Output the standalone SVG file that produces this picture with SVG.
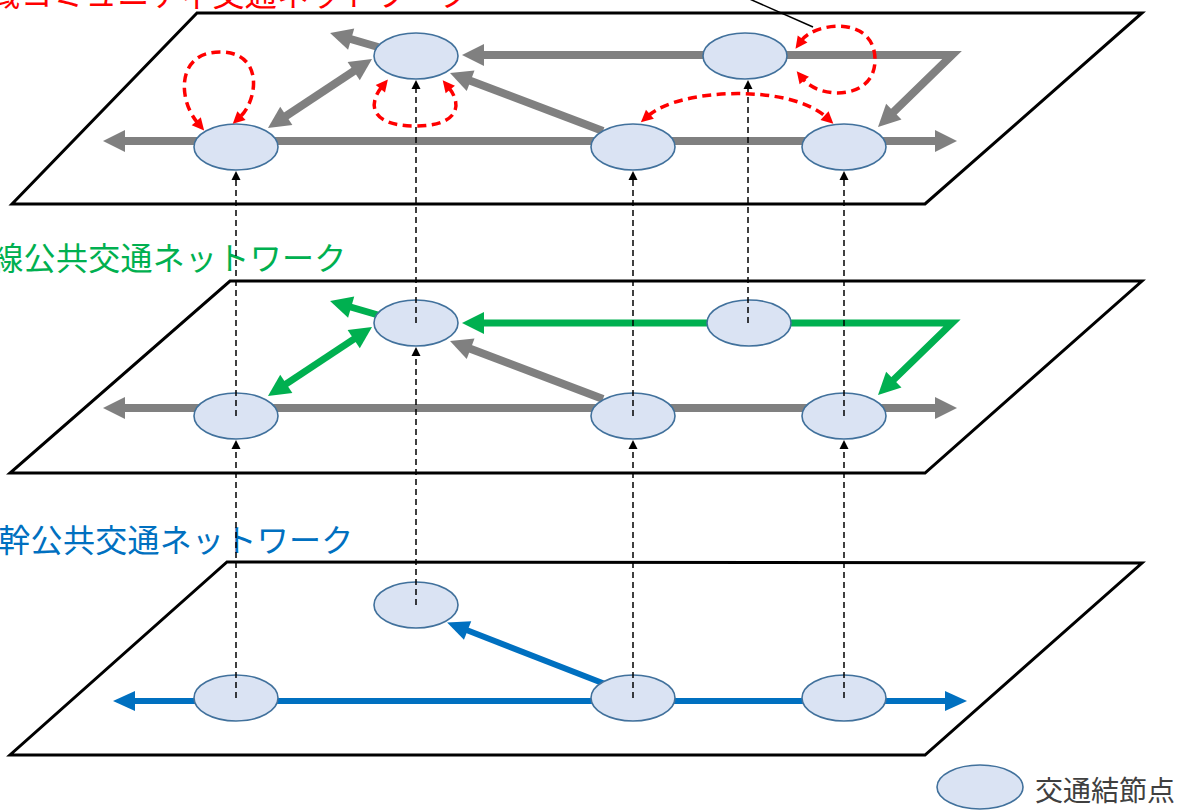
<svg xmlns="http://www.w3.org/2000/svg" width="1181" height="810" viewBox="0 0 1181 810">
<style>
.plane{fill:#fff;stroke:#000;stroke-width:3;stroke-linejoin:miter}
.node{fill:#DAE3F3;stroke:#41719C;stroke-width:1.6}
.gray{fill:none;stroke:#808080;stroke-width:8;stroke-linejoin:miter}
.green{fill:none;stroke:#00B050;stroke-width:7;stroke-linejoin:miter}
.blue{fill:none;stroke:#0070C0;stroke-width:6}
.red{fill:none;stroke:#FF0000;stroke-width:3.5;stroke-dasharray:9 5.5}
.vd{fill:none;stroke:#000;stroke-width:1.5;stroke-dasharray:6 4}
.ttl{font-family:"Noto Sans CJK JP","Noto Sans",sans-serif;font-size:32px;letter-spacing:0.3px}
</style>
<defs>
<marker id="ag" markerUnits="userSpaceOnUse" viewBox="-10 -15 30 30" markerWidth="30" markerHeight="30" refX="0" refY="0" orient="auto-start-reverse" overflow="visible"><path d="M-6,-11 L16,0 L-6,11 Z" fill="#808080"/></marker>
<marker id="agr" markerUnits="userSpaceOnUse" viewBox="-10 -15 30 30" markerWidth="30" markerHeight="30" refX="0" refY="0" orient="auto-start-reverse" overflow="visible"><path d="M-6,-11 L16,0 L-6,11 Z" fill="#00B050"/></marker>
<marker id="ab" markerUnits="userSpaceOnUse" viewBox="-10 -15 30 30" markerWidth="30" markerHeight="30" refX="0" refY="0" orient="auto-start-reverse" overflow="visible"><path d="M-6,-10 L16,0 L-6,10 Z" fill="#0070C0"/></marker>
<marker id="ar" markerUnits="userSpaceOnUse" viewBox="-5 -8 16 16" markerWidth="16" markerHeight="16" refX="0" refY="0" orient="auto-start-reverse" overflow="visible"><path d="M-2,-6 L10,0 L-2,6 Z" fill="#FF0000"/></marker>
<marker id="ak" markerUnits="userSpaceOnUse" viewBox="-4 -6 14 12" markerWidth="14" markerHeight="12" refX="0" refY="0" orient="auto-start-reverse" overflow="visible"><path d="M-1,-4.5 L8,0 L-1,4.5 Z" fill="#000"/></marker>
</defs>

<g id="titles">
<text class="ttl" x="-44" y="6" fill="#FF0000" font-size="31">地域コミュニティ交通ネットワーク</text>
<text class="ttl" x="-41" y="270" fill="#00B050">支線公共交通ネットワーク</text>
<text class="ttl" x="-34" y="552" fill="#0070C0">基幹公共交通ネットワーク</text>
</g>

<g id="planes">
<polygon id="plane-top" class="plane" points="197,13 1142,13 925,204 12,204"/>
<polygon id="plane-mid" class="plane" points="230,281 1142,281 925,473 10,473"/>
<polygon id="plane-bottom" class="plane" points="227,562 1142,563 925,755 10,755"/>
</g>

<g id="connectors">
<!-- top layer -->
<line class="gray" x1="119" y1="141" x2="941" y2="141" marker-start="url(#ag)" marker-end="url(#ag)"/>
<path class="gray" d="M478,55 L952,55 L889.5,115.8" marker-start="url(#ag)" marker-end="url(#ag)"/>
<line class="gray" x1="603" y1="131" x2="465" y2="78.7" marker-end="url(#ag)"/>
<line class="gray" x1="281.3" y1="119.2" x2="358.7" y2="67.8" marker-start="url(#ag)" marker-end="url(#ag)"/>
<line class="gray" x1="378" y1="47" x2="345.4" y2="37.5" marker-end="url(#ag)"/>
<!-- middle layer -->
<line class="gray" x1="119" y1="408" x2="941" y2="408" marker-start="url(#ag)" marker-end="url(#ag)"/>
<line class="gray" x1="603" y1="399" x2="465" y2="346.7" marker-end="url(#ag)"/>
<path class="green" d="M478,323 L952,323 L889.5,383.8" marker-start="url(#agr)" marker-end="url(#agr)"/>
<line class="green" x1="281.3" y1="387.2" x2="358.7" y2="335.8" marker-start="url(#agr)" marker-end="url(#agr)"/>
<line class="green" x1="378" y1="315" x2="345.4" y2="305.5" marker-end="url(#agr)"/>
<!-- bottom layer -->
<line class="blue" x1="129" y1="701" x2="951" y2="701" marker-start="url(#ab)" marker-end="url(#ab)"/>
<line class="blue" x1="605" y1="684" x2="462" y2="628.3" marker-end="url(#ab)"/>
</g>

<g id="nodes">
<ellipse id="t-a" class="node" cx="236" cy="147" rx="42" ry="23"/>
<ellipse id="t-b" class="node" cx="416" cy="56" rx="42" ry="23"/>
<ellipse id="t-c" class="node" cx="633" cy="147" rx="42" ry="23"/>
<ellipse id="t-d" class="node" cx="745" cy="56" rx="42" ry="23"/>
<ellipse id="t-e" class="node" cx="844" cy="147" rx="42" ry="23"/>
<ellipse id="m-a" class="node" cx="236" cy="416" rx="42" ry="23"/>
<ellipse id="m-b" class="node" cx="416" cy="323" rx="42" ry="23"/>
<ellipse id="m-c" class="node" cx="633" cy="416" rx="42" ry="23"/>
<ellipse id="m-d" class="node" cx="749" cy="323" rx="42" ry="23"/>
<ellipse id="m-e" class="node" cx="844" cy="416" rx="42" ry="23"/>
<ellipse id="b-b" class="node" cx="416" cy="605" rx="42" ry="23"/>
<ellipse id="b-a" class="node" cx="236" cy="698" rx="42" ry="23"/>
<ellipse id="b-c" class="node" cx="633" cy="698" rx="42" ry="23"/>
<ellipse id="b-e" class="node" cx="844" cy="698" rx="42" ry="23"/>
</g>

<g id="vertical-links">
<line class="vd" x1="236" y1="416" x2="236" y2="179" marker-end="url(#ak)"/>
<line class="vd" x1="416" y1="323" x2="416" y2="88" marker-end="url(#ak)"/>
<line class="vd" x1="633" y1="416" x2="633" y2="179" marker-end="url(#ak)"/>
<line class="vd" x1="748" y1="323" x2="748" y2="88" marker-end="url(#ak)"/>
<line class="vd" x1="844" y1="416" x2="844" y2="179" marker-end="url(#ak)"/>
<line class="vd" x1="236" y1="698" x2="236" y2="448" marker-end="url(#ak)"/>
<line class="vd" x1="416" y1="605" x2="416" y2="355" marker-end="url(#ak)"/>
<line class="vd" x1="633" y1="698" x2="633" y2="448" marker-end="url(#ak)"/>
<line class="vd" x1="844" y1="698" x2="844" y2="448" marker-end="url(#ak)"/>
</g>

<g id="community-links">
<path class="red" d="M197.6,122.8 C178,100 176,52 220,52 C264,52 258,100 240,117" marker-start="url(#ar)" marker-end="url(#ar)"/>
<path class="red" d="M381.6,87.2 C368,104 370,126 415,126 C460,126 462,104 449,88" marker-start="url(#ar)" marker-end="url(#ar)"/>
<path class="red" d="M801.4,40.6 C815,22 875,15 875,60 C875,100 820,100 803,79" marker-start="url(#ar)" marker-end="url(#ar)"/>
<path class="red" d="M648.4,115.6 C680,88 790,84 826,117" marker-start="url(#ar)" marker-end="url(#ar)"/>
<line x1="745" y1="-3" x2="813" y2="27" stroke="#000" stroke-width="1.5"/>
</g>

<g id="legend">
<ellipse class="node" cx="980" cy="787" rx="43" ry="22"/>
<text x="1035" y="801" font-family="'Noto Sans CJK JP','Noto Sans',sans-serif" font-size="28" fill="#404040">交通結節点</text>
</g>
</svg>
